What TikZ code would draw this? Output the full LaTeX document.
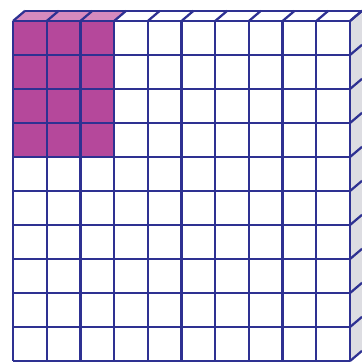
\documentclass[tikz,border=0pt]{standalone}
\usetikzlibrary{calc}

\definecolor{gridblue}{RGB}{46,49,146}
\definecolor{flatpink}{RGB}{181,72,155}
\definecolor{toppink}{RGB}{214,138,190}
\definecolor{sidegray}{RGB}{221,221,226}

\begin{document}
\begin{tikzpicture}[
    x=1cm,
    y=1.009cm,
    cellline/.style={
        draw=gridblue,
        line width=1.9pt,
        line join=round
    },
    shaded/.style={
        fill=flatpink
    },
    topface/.style={
        fill=toppink
    },
    sideface/.style={
        fill=sidegray
    }
]

\useasboundingbox (-0.386,-10.0) rectangle (10.356,0.618);

% --- faces of the flat ---
\fill[sideface] (10,0) -- (10.356,0.3) -- (10.356,-9.7) -- (10,-10) -- cycle;
\fill[white] (0,0) -- (0.356,0.3) -- (10.356,0.3) -- (10,0) -- cycle;
\fill[topface] (0,0) -- (0.356,0.3) -- (3.356,0.3) -- (3,0) -- cycle;

% shaded block: 3 columns, 4 rows
\fill[shaded] (0,0) rectangle (3,-4);

% --- grid lines (front, top and side) ---
\foreach \i in {0,...,10} {
    \draw[cellline] (\i,0) -- (\i,-10);
    \draw[cellline] (0,-\i) -- (10,-\i);
    \draw[cellline] (\i,0) -- ++(0.356,0.3);
    \draw[cellline] (10,-\i) -- ++(0.356,0.3);
}
\draw[cellline] (0.356,0.3) -- (10.356,0.3);

\end{tikzpicture}
\end{document}
